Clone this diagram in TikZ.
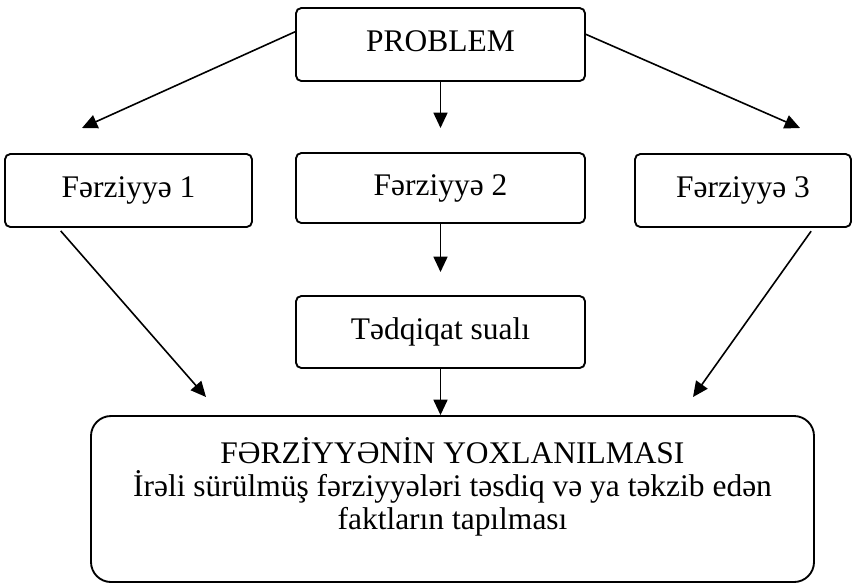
\documentclass[tikz,border=0pt]{standalone}
\usepackage{fontspec}
\setmainfont{Liberation Serif}
\usetikzlibrary{arrows.meta}

\newcommand\boxfont{\fontsize{23.6}{24.75}\selectfont\lineskiplimit=-100pt\relax}

\tikzset{
    box/.style={draw, line width=1.4pt, rounded corners=4pt, align=center, inner sep=0pt,
        text height=16.5pt, text depth=6pt},
    link/.style={line width=1.2pt, -{Triangle[length=11.5pt,width=10.5pt]}},
}

\begin{document}
\begin{tikzpicture}[x=0.75pt, y=-0.75pt, font=\boxfont]
    \useasboundingbox (0,0) rectangle (852,583);
    \node[box, minimum width=216.75pt, minimum height=54.75pt] (prob) at (440.5,44.5) {PROBLEM};
    \node[box, minimum width=185.25pt, minimum height=54.75pt] (f1) at (128.5,190.5) {Fərziyyə 1};
    \node[box, minimum width=216.75pt, minimum height=52.5pt] (f2) at (440.5,188) {Fərziyyə 2};
    \node[box, minimum width=162pt, minimum height=54.75pt] (f3) at (743,190.5) {Fərziyyə 3};
    \node[box, minimum width=216.75pt, minimum height=54pt] (tq) at (440.5,332) {Tədqiqat sualı};
    \node[box, rounded corners=15pt, minimum width=542.25pt, minimum height=124.5pt,
        text height=50pt, text depth=5pt] (yox) at (452.5,499)
        {FƏRZİYYƏNİN YOXLANILMASI\\
         İrəli sürülmüş fərziyyələri təsdiq və ya təkzib edən\\
         faktların tapılması};
    \coordinate (t1) at (82,128);
    \coordinate (t2) at (440.5,128);
    \coordinate (t3) at (800,128);
    \coordinate (t4) at (440.5,272);
    \coordinate (b1) at (206,397);
    \coordinate (b3) at (693,397);
    \draw[link] (prob.175.5) -- (t1);
    \draw[link] (prob) -- (t2);
    \draw[link] (prob.4.5) -- (t3);
    \draw[link] (f2) -- (t4);
    \draw[link, shorten <=3pt] (f1.208.8) -- (b1);
    \draw[link, shorten <=3pt] (f3.332.1) -- (b3);
    \draw[link] (tq) -- (tq |- yox.north);
\end{tikzpicture}
\end{document}
